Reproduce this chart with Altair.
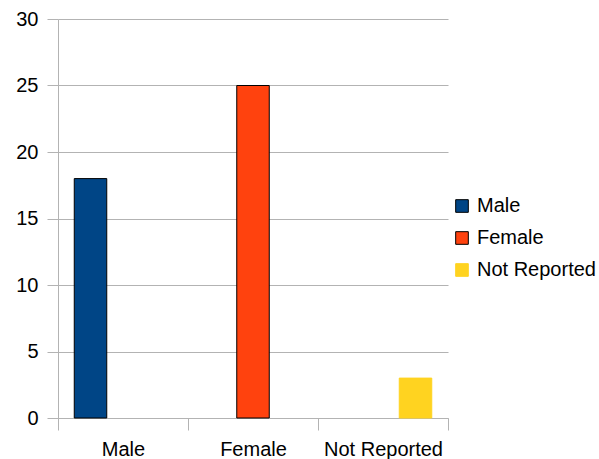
import altair as alt
import pandas as pd

categories = ["Male", "Female", "Not Reported"]
series = ["Male", "Female", "Not Reported"]
male_vals = [18, 0, 0]
female_vals = [0, 25, 0]
notrep_vals = [0, 0, 3]
colors = ["#004586", "#ff420e", "#ffd320"]
strokes = ["#000000", "#000000", "#ffd320"]

rows = []
for s, vals in zip(series, [male_vals, female_vals, notrep_vals]):
    for c, v in zip(categories, vals):
        rows.append({"category": c, "series": s, "value": v})
df = pd.DataFrame(rows)

FONT = "Liberation Sans"
FS = 20

chart = alt.Chart(df).transform_filter(alt.datum.value > 0).mark_bar(strokeWidth=1).encode(
    x=alt.X("category:N", sort=categories,
            scale=alt.Scale(paddingInner=0, paddingOuter=0),
            axis=alt.Axis(title=None, labelAngle=0, tickBand="extent", tickSize=12,
                          labelPadding=9, labelFontSize=FS, labelFont=FONT,
                          labelColor="#000000", tickColor="#b3b3b3", domainColor="#b3b3b3",
                          grid=False)),
    xOffset=alt.XOffset("series:N", sort=series,
                        scale=alt.Scale(domain=series, paddingInner=0, paddingOuter=0.5)),
    y=alt.Y("value:Q", scale=alt.Scale(domain=[0, 30]),
            axis=alt.Axis(title=None, values=[0, 5, 10, 15, 20, 25, 30], tickSize=11,
                          labelPadding=9, labelFontSize=FS, labelFont=FONT,
                          labelColor="#000000", tickColor="#b3b3b3", domainColor="#b3b3b3",
                          gridColor="#b3b3b3")),
    fill=alt.Fill("series:N", sort=series,
                  scale=alt.Scale(domain=series, range=colors),
                  legend=alt.Legend(title=None, orient="none", legendX=394, legendY=177,
                                    symbolType="square", symbolSize=160, symbolStrokeWidth=1,
                                    labelFontSize=FS, labelFont=FONT, labelColor="#000000",
                                    rowPadding=12, labelOffset=5)),
    stroke=alt.Stroke("series:N", sort=series,
                      scale=alt.Scale(domain=series, range=strokes),
                      legend=None),
).properties(
    width=390, height=399,
    padding={"left": 58, "top": 19, "right": 151, "bottom": 41},
    autosize=alt.AutoSizeParams(type="none"),
    background="#ffffff",
).configure_view(stroke=None)

chart.save("out.html", embed_options={"renderer": "svg", "actions": False})
